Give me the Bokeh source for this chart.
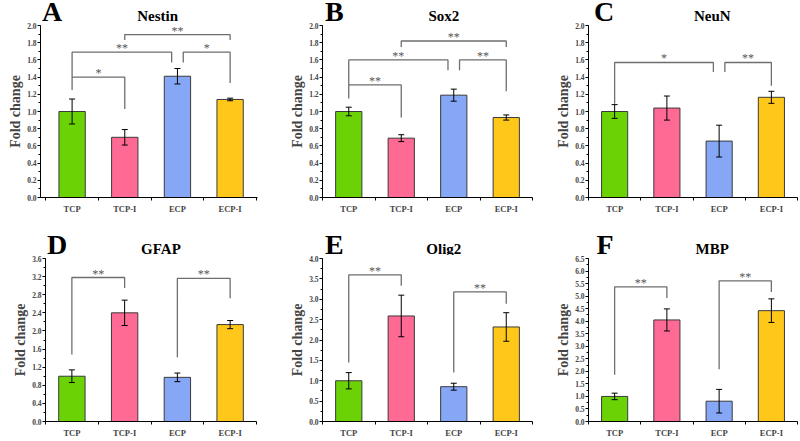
from bokeh.plotting import figure
from bokeh.layouts import column, row
from bokeh.models import (Range1d, FixedTicker, SingleIntervalTicker, NumeralTickFormatter,
                          Whisker, ColumnDataSource, TeeHead)
from bokeh.core.properties import value
from bokeh.embed import file_html
from bokeh.resources import INLINE

# ---------------- data ----------------
groups = ["TCP", "TCP-I", "ECP", "ECP-I"]
bar_colors = ["#6BD305", "#FF6A95", "#86A6F6", "#FFC719"]

titles = ["Nestin", "Sox2", "NeuN", "GFAP", "Olig2", "MBP"]
letters = ["A", "B", "C", "D", "E", "F"]

nestin_mean = [1.00, 0.70, 1.41, 1.14]
nestin_sd = [0.145, 0.09, 0.09, 0.015]
sox2_mean = [1.00, 0.69, 1.19, 0.93]
sox2_sd = [0.05, 0.04, 0.07, 0.03]
neun_mean = [1.00, 1.04, 0.656, 1.165]
neun_sd = [0.08, 0.14, 0.185, 0.07]
gfap_mean = [1.00, 2.40, 0.975, 2.14]
gfap_sd = [0.14, 0.28, 0.095, 0.09]
olig2_mean = [1.00, 2.59, 0.854, 2.32]
olig2_sd = [0.20, 0.51, 0.085, 0.35]
mbp_mean = [1.00, 4.05, 0.81, 4.42]
mbp_sd = [0.13, 0.44, 0.47, 0.47]

y_max = [2.0, 2.0, 2.0, 3.6, 4.0, 6.5]
y_step = [0.2, 0.2, 0.2, 0.4, 0.5, 0.5]

# significance brackets: (x left, x right, bracket level, left leg end, right leg end, label)
nestin_sig = [(1, 2, 1.40, 1.25, 1.03, "*"),
              (1, 2.89, 1.69, 1.40, 1.57, "**"),
              (2, 4, 1.895, 1.83, 1.83, "**"),
              (3.11, 4, 1.69, 1.57, 1.33, "*")]
sox2_sig = [(1, 2, 1.31, 1.15, 0.93, "**"),
            (1, 2.89, 1.60, 1.31, 1.48, "**"),
            (2, 4, 1.82, 1.75, 1.75, "**"),
            (3.11, 4, 1.60, 1.48, 1.235, "**")]
neun_sig = [(1, 2.89, 1.57, 1.09, 1.46, "*"),
            (3.11, 4, 1.57, 1.46, 1.30, "**")]
gfap_sig = [(1, 2, 3.18, 1.48, 2.95, "**"),
            (3, 4, 3.16, 1.42, 2.72, "**")]
olig2_sig = [(1, 2, 3.60, 1.45, 3.33, "**"),
             (3, 4, 3.18, 1.20, 2.89, "**")]
mbp_sig = [(1, 2, 5.37, 1.86, 4.92, "**"),
           (3, 4, 5.61, 2.08, 5.16, "**")]

means = [nestin_mean, sox2_mean, neun_mean, gfap_mean, olig2_mean, mbp_mean]
sds = [nestin_sd, sox2_sd, neun_sd, gfap_sd, olig2_sd, mbp_sd]
sigs = [nestin_sig, sox2_sig, neun_sig, gfap_sig, olig2_sig, mbp_sig]

# ---------------- layout (positions / styles) ----------------
FONT = "Liberation Serif"
# x-range start per panel
x_start = [0.4, 0.5, 0.5, 0.5, 0.5, 0.5]
X_END = 4.5
# (width, header h, chart h, left, right, top, bottom, letter x, letter mid y, title mid y)
geo = [
    (275, 22, 200, 40, 18, 3, 25, 2, 11, 15),
    (263, 22, 200, 47, 6, 3, 25, 3, 11, 15),
    (261, 22, 200, 50, 2, 3, 25, 7, 11, 15),
    (275, 33, 185, 45, 19, 3, 15, 2, 22, 26.5),
    (263, 33, 185, 47, 6, 3, 15, 3, 22, 26.5),
    (261, 33, 185, 50, 2, 3, 15, 10, 22, 26.5),
]

xs_pos = [1, 2, 3, 4]


def make_header(i):
    w, hh, ch, bl, br, bt, bb, lx, ly, ty = geo[i]
    hp = figure(width=w, height=hh, output_backend="svg", toolbar_location=None,
                x_range=Range1d(0, w), y_range=Range1d(hh, 0),
                x_axis_location=None, y_axis_location=None,
                min_border=0, min_border_left=0, min_border_right=0,
                min_border_top=0, min_border_bottom=0)
    hp.grid.visible = False
    hp.outline_line_color = None
    frame_mid = bl + (w - bl - br) / 2
    hp.text(x=[lx], y=[ly], text=[letters[i]], text_align="left",
            text_baseline="middle", text_font=value(FONT), text_font_size="28px",
            text_font_style="bold", text_color="black")
    hp.text(x=[frame_mid], y=[ty], text=[titles[i]], text_align="center",
            text_baseline="middle", text_font=value(FONT), text_font_size="15px",
            text_font_style="bold", text_color="black")
    return hp


def make_panel(i):
    w, hh, ch, bl, br, bt, bb, lx, ly, ty = geo[i]
    p = figure(width=w, height=ch, output_backend="svg", toolbar_location=None,
               x_range=Range1d(x_start[i], X_END + (0.02 if i == 0 else 0)),
               y_range=Range1d(0, y_max[i]),
               min_border_left=bl, min_border_right=br, min_border_top=bt,
               min_border_bottom=bb)
    p.outline_line_color = None
    p.grid.visible = False
    p.background_fill_color = "white"
    p.border_fill_color = "white"

    mean = means[i]
    sd = sds[i]
    src = ColumnDataSource(dict(x=xs_pos, top=mean, color=bar_colors,
                                upper=[m + s for m, s in zip(mean, sd)],
                                lower=[m - s for m, s in zip(mean, sd)]))
    p.vbar(x="x", top="top", bottom=0, width=0.5, fill_color="color",
           line_color="#3a3a3a", line_width=1, source=src)
    wh = Whisker(base="x", upper="upper", lower="lower", source=src,
                 line_color="black", line_width=1, level="annotation",
                 upper_head=TeeHead(size=6, line_color="black", line_width=1),
                 lower_head=TeeHead(size=6, line_color="black", line_width=1))
    p.add_layout(wh)

    # brackets
    bx, by, tx, tyy, tt = [], [], [], [], []
    for (x1, x2, yt, y1, y2, lab) in sigs[i]:
        bx.append([x1, x1, x2, x2])
        by.append([y1, yt, yt, y2])
        tx.append((x1 + x2) / 2)
        tyy.append(yt)
        tt.append(lab)
    p.multi_line(bx, by, line_color="#6e6e6e", line_width=1.3)
    p.text(x=tx, y=tyy, text=tt, text_align="center", text_baseline="alphabetic",
           text_font=value(FONT), text_font_size="12px", text_color="#555555",
           y_offset=-4)

    # axes
    xa = p.xaxis[0]
    xa.ticker = FixedTicker(ticks=xs_pos, minor_ticks=[0.5, 1.5, 2.5, 3.5, 4.5])
    xa.major_label_overrides = {1: groups[0], 2: groups[1], 3: groups[2], 4: groups[3]}
    xa.major_tick_out = 0
    xa.major_tick_in = 0
    xa.minor_tick_out = 3
    xa.minor_tick_in = 0
    xa.major_label_standoff = 3
    xa.major_label_text_font = FONT
    xa.major_label_text_font_style = "bold"
    xa.major_label_text_font_size = "8.5px"
    xa.axis_line_color = "black"

    ya = p.yaxis[0]
    ya.ticker = SingleIntervalTicker(interval=y_step[i], num_minor_ticks=2)
    ya.formatter = NumeralTickFormatter(format="0.0")
    ya.major_tick_out = 3
    ya.major_tick_in = 0
    ya.minor_tick_out = 2
    ya.minor_tick_in = 0
    ya.major_label_standoff = 1
    ya.major_label_text_font = FONT
    ya.major_label_text_font_style = "bold"
    ya.major_label_text_font_size = "7.5px"
    ya.axis_label = "Fold change"
    ya.axis_label_text_font = FONT
    ya.axis_label_text_font_style = "bold"
    ya.axis_label_text_font_size = "14px"
    ya.axis_label_standoff = 1
    ya.axis_line_color = "black"
    return p


cells = [column(make_header(i), make_panel(i)) for i in range(6)]
layout = column(row(*cells[:3]), row(*cells[3:]))

open("out.html", "w").write(file_html(layout, INLINE))
